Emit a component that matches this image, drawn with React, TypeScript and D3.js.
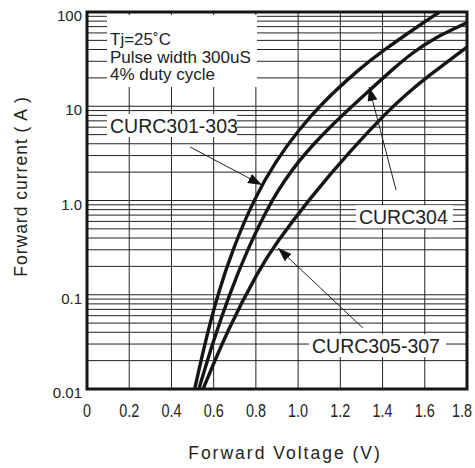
import * as d3 from "d3";

// Forward I-V characteristics (V, A)
const VOLTS_301 = [0.51, 0.562, 0.619, 0.689, 0.7925, 0.897, 1.003, 1.112, 1.295, 1.393, 1.577, 1.67];
const AMPS_301 = [0.01, 0.033, 0.1, 0.3, 1.06, 2.69, 5.6, 10.8, 25.5, 37.6, 73, 100];

const VOLTS_304 = [0.53, 0.599, 0.674, 0.759, 0.877, 1.003, 1.147, 1.34, 1.455, 1.54, 1.644, 1.8];
const AMPS_304 = [0.01, 0.033, 0.1, 0.3, 1.06, 2.69, 6.0, 14.9, 25.5, 36.7, 53, 77];

const VOLTS_305 = [0.55, 0.665, 0.813, 0.896, 1.056, 1.25, 1.43, 1.503, 1.61, 1.8];
const AMPS_305 = [0.01, 0.042, 0.183, 0.354, 1.06, 3.43, 9.1, 12.85, 20.4, 42.5];

const X_TICKS = [0, 0.2, 0.4, 0.6, 0.8, 1.0, 1.2, 1.4, 1.6, 1.8];
const X_TICK_LABELS = ["0", "0.2", "0.4", "0.6", "0.8", "1.0", "1.2", "1.4", "1.6", "1.8"];
const Y_TICKS = [0.01, 0.1, 1, 10, 100];
const Y_TICK_LABELS = ["0.01", "0.1", "1.0", "10", "100"];

const LEGEND_LINES = ["Tj=25˚C", "Pulse width 300uS", "4% duty cycle"];

// curve callouts: label start (V) + baseline (A), arrow tail -> tip in data units
const CALLOUTS = ["CURC301-303", "CURC304", "CURC305-307"];
const CALLOUT_V = [0.109, 1.288, 1.066];
const CALLOUT_A = [5.2, 0.56, 0.024];
const CALLOUT_W = [130, 97, 137];
const ARROW_FROM_V = [0.488, 1.464, 1.307];
const ARROW_FROM_A = [3.7, 1.29, 0.0443];
const ARROW_TO_V = [0.829, 1.336, 0.905];
const ARROW_TO_A = [1.46, 16, 0.313];

const W = 475;
const H = 468;
const M = { top: 12, right: 8, bottom: 79, left: 87 };
const FONT = "Arial, 'Liberation Sans', sans-serif";

export default function App() {
  const x = d3.scaleLinear().domain([0, 1.8]).range([M.left, W - M.right]);
  const y = d3.scaleLog().domain([0.01, 100]).range([H - M.bottom, M.top]);

  const [x0, x1] = x.range();
  const [y0, y1] = y.range();

  // log grid 1..9 per decade
  const minor: number[] = [];
  for (const dec of [0.01, 0.1, 1, 10]) {
    for (let k = 1; k <= 9; k++) minor.push(dec * k);
  }
  minor.push(100);

  const line = d3
    .line<[number, number]>()
    .x((d) => x(d[0]))
    .y((d) => y(d[1]))
    .curve(d3.curveBasis);

  const curves = [
    VOLTS_301.map((v, i) => [v, AMPS_301[i]] as [number, number]),
    VOLTS_304.map((v, i) => [v, AMPS_304[i]] as [number, number]),
    VOLTS_305.map((v, i) => [v, AMPS_305[i]] as [number, number]),
  ];

  return (
    <svg
      width={W}
      height={H}
      viewBox={`0 0 ${W} ${H}`}
      style={{ position: "absolute", left: 0, top: 0, background: "#fff" }}
      fontFamily={FONT}
    >
      <defs>
        <clipPath id="plot">
          <rect x={x0} y={y1} width={x1 - x0} height={y0 - y1} />
        </clipPath>
        <marker
          id="arrow"
          viewBox="0 0 14 10"
          refX={14}
          refY={5}
          markerWidth={14}
          markerHeight={10}
          markerUnits="userSpaceOnUse"
          orient="auto"
        >
          <path d="M0,0 L14,5 L0,10 Z" fill="#111" />
        </marker>
      </defs>

      <rect x={0} y={0} width={W} height={H} fill="#fff" />

      {/* grid */}
      <g stroke="#222" strokeWidth={1}>
        {minor.map((v) => (
          <line key={"h" + v} x1={x0} x2={x1} y1={y(v)} y2={y(v)} />
        ))}
        {X_TICKS.slice(1, -1).map((v) => (
          <line key={"v" + v} x1={x(v)} x2={x(v)} y1={y0} y2={y1} />
        ))}
      </g>

      {/* legend block */}
      <rect x={x0 + 20} y={y1 + 3} width={150} height={72} fill="#fff" />
      <g fontSize={17} fill="#222">
        {LEGEND_LINES.map((t, i) => (
          <text key={t} x={x0 + 23} y={y1 + 33 + i * 17.5}>
            {t}
          </text>
        ))}
      </g>

      {/* curves */}
      <g clipPath="url(#plot)" fill="none" stroke="#151515" strokeWidth={3.4}>
        {curves.map((c, i) => (
          <path key={i} d={line(c) || ""} />
        ))}
      </g>

      {/* callouts */}
      {CALLOUTS.map((t, i) => {
        const tx = x(CALLOUT_V[i]);
        const ty = y(CALLOUT_A[i]);
        return (
          <g key={t}>
            <rect x={tx - 3} y={ty - 19} width={CALLOUT_W[i]} height={23} fill="#fff" />
            <text x={tx} y={ty} fontSize={19.5} fill="#222">
              {t}
            </text>
            <line
              x1={x(ARROW_FROM_V[i])}
              y1={y(ARROW_FROM_A[i])}
              x2={x(ARROW_TO_V[i])}
              y2={y(ARROW_TO_A[i])}
              stroke="#222"
              strokeWidth={1}
              markerEnd="url(#arrow)"
            />
          </g>
        );
      })}

      {/* frame */}
      <rect
        x={x0}
        y={y1}
        width={x1 - x0}
        height={y0 - y1}
        fill="none"
        stroke="#151515"
        strokeWidth={3}
      />

      {/* y tick labels */}
      <g fontSize={15} fill="#222" textAnchor="end">
        {Y_TICKS.map((v, i) => (
          <text key={v} x={x0 - 5} y={y(v) + 9}>
            {Y_TICK_LABELS[i]}
          </text>
        ))}
      </g>

      {/* x tick labels (narrow) */}
      <g fontSize={18} fill="#222">
        {X_TICKS.map((v, i) => {
          const last = i === X_TICKS.length - 1;
          return (
            <text
              key={v}
              transform={`translate(${x(v) + (last ? 5 : 0)},${y0 + 28}) scale(0.8,1)`}
              textAnchor={last ? "end" : "middle"}
            >
              {X_TICK_LABELS[i]}
            </text>
          );
        })}
      </g>

      {/* axis titles */}
      <text
        x={285}
        y={H - 9}
        textAnchor="middle"
        fontSize={17.5}
        letterSpacing={2}
        fill="#222"
      >
        Forward Voltage (V)
      </text>
      <text
        transform={`translate(27,${(y0 + y1) / 2 - 14}) rotate(-90)`}
        textAnchor="middle"
        fontSize={17.5}
        letterSpacing={1}
        fill="#222"
      >
        Forward current ( A )
      </text>
    </svg>
  );
}
